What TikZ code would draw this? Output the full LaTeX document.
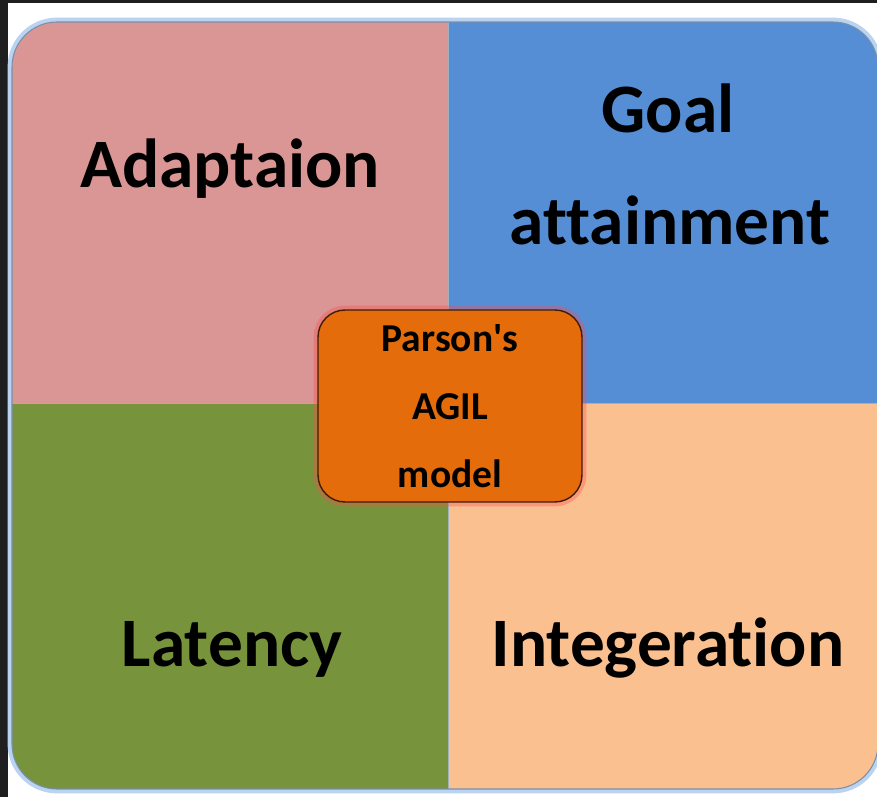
\documentclass[tikz,border=0pt]{standalone}
\usepackage{fontspec}
\setmainfont[Ligatures={NoCommon}]{Carlito}
\usetikzlibrary{positioning}
\definecolor{framedark}{HTML}{1F1F1F}
\definecolor{adaptpink}{HTML}{D99694}
\definecolor{goalblue}{HTML}{558ED5}
\definecolor{latgreen}{HTML}{77933C}
\definecolor{integpeach}{HTML}{FAC090}
\definecolor{agilorange}{HTML}{E46C0A}
\definecolor{agilbrown}{HTML}{3F1C05}
\definecolor{edgegray}{HTML}{7A8FA8}
\definecolor{glowblue}{HTML}{B9D3F0}
\tikzset{
  quadlabel/.style={font=\fontsize{39.5}{48}\selectfont\bfseries,anchor=base,inner sep=0pt},
  agilbox/.style={draw=agilbrown,line width=0.8pt,fill=agilorange,rounded corners=0.54cm,
    minimum width=5.28cm,minimum height=3.84cm,align=center,
    font=\fontsize{22.5}{38.7}\selectfont\bfseries,
    preaction={draw=red!70,line width=5pt,opacity=0.35}},
  divline/.style={draw=edgegray!70,line width=0.5pt}
}
\begin{document}
\begin{tikzpicture}[x=0.02cm,y=-0.02cm]
\useasboundingbox (0,0) rectangle (877,797);
\fill [framedark] (0,0) rectangle (877,797);
\fill [white] (8,3) rectangle (877,797);
% soft halo round the square
\draw [glowblue,line width=5pt,rounded corners=0.9cm] (12,22) rectangle (878,789);
\begin{scope}
\clip [rounded corners=0.9cm] (12,22) rectangle (878,789);
\fill [adaptpink] (12,22) rectangle (448,403);
\fill [goalblue] (448,22) rectangle (878,403);
\fill [latgreen] (12,403) rectangle (448,789);
\fill [integpeach] (448,403) rectangle (878,789);
\draw [divline] (448,22) -- (448,789);
\draw [divline] (12,403) -- (878,403);
\end{scope}
\draw [edgegray,line width=0.6pt,rounded corners=0.9cm] (12,22) rectangle (878,789);
\node [quadlabel] (adapt) at (230,188) {Adaptaion};
\node [quadlabel] (goal) at (668,133) {Goal};
\node [quadlabel] (attain) at (670,245) {attainment};
\node [quadlabel] (latency) at (232,667) {Latency};
\node [quadlabel] (integ) at (668,667) {Integeration};
\node [agilbox] (agil) at (450,406) {Parson\textquotesingle s\\AGIL\\model};
\end{tikzpicture}
\end{document}
